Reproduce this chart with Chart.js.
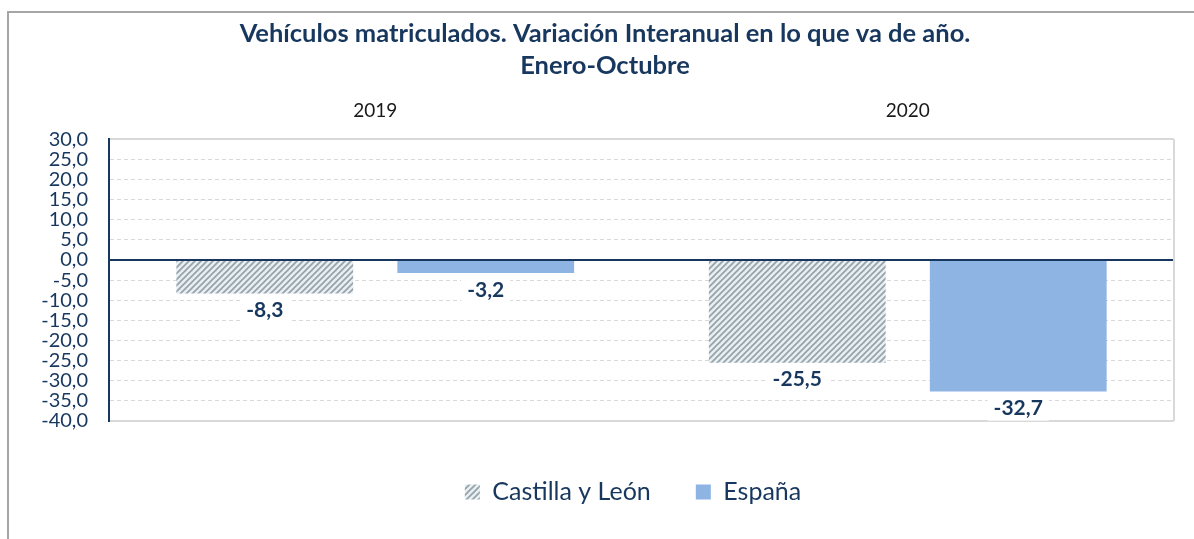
<!DOCTYPE html>
<html>
<head>
<meta charset="utf-8">
<script src="https://cdn.jsdelivr.net/npm/chart.js@4.4.1/dist/chart.umd.min.js"></script>
<style>
  html, body { margin: 0; padding: 0; background: #fff; overflow: hidden; }
  #frame { position: absolute; left: 7px; top: 11px; width: 1200px; height: 540px;
           border-left: 2px solid #a6a6a6; border-top: 2px solid #a6a6a6; }
  #wrap { position: absolute; left: 0; top: 0; width: 1194px; height: 539px; }
</style>
</head>
<body>
<div id="frame"></div>
<div id="wrap"><canvas id="chart" width="1194" height="539"></canvas></div>
<script>
// ===== DATA =====
const years      = ['2019', '2020'];
const castilla   = [-8.3, -25.5];
const espana     = [-3.2, -32.7];
const seriesNames = ['Castilla y León', 'España'];
const yTicks     = [30, 25, 20, 15, 10, 5, 0, -5, -10, -15, -20, -25, -30, -35, -40];

const NAVY = '#17375e';
const FONT = 'Lato, "Liberation Sans", sans-serif';

// hatch pattern (light diagonal stripes)
function makeHatch() {
  const s = 6;
  const c = document.createElement('canvas');
  c.width = s; c.height = s;
  const g = c.getContext('2d');
  g.fillStyle = '#e8eff3';
  g.fillRect(0, 0, s, s);
  g.strokeStyle = '#96a1a9';
  g.lineWidth = 1.7;
  for (let k = -1; k <= 1; k++) {
    g.beginPath();
    g.moveTo(k * s - 1, s + 1);
    g.lineTo(k * s + s + 1, -1);
    g.stroke();
  }
  return g.createPattern(c, 'repeat');
}
const hatch = makeHatch();

const fmt = v => v.toFixed(1).replace('.', ',');

// value labels below each bar, with white box
const valueLabels = {
  id: 'valueLabels',
  afterDatasetsDraw(chart) {
    const ctx = chart.ctx;
    ctx.save();
    ctx.font = 'bold 21px ' + FONT;
    ctx.textAlign = 'center';
    ctx.textBaseline = 'middle';
    chart.data.datasets.forEach((ds, di) => {
      chart.getDatasetMeta(di).data.forEach((el, i) => {
        const txt = fmt(ds.data[i]);
        const y = el.y + 17;
        const w = ctx.measureText(txt).width + 12;
        ctx.fillStyle = '#fff';
        ctx.fillRect(el.x - w / 2, y - 12, w, 24);
        ctx.fillStyle = NAVY;
        ctx.fillText(txt, el.x, y);
      });
    });
    ctx.restore();
  }
};

// right border of plot area + shift title/legend like the original
const plotFrame = {
  id: 'plotFrame',
  afterLayout(chart) {
    if (chart.legend) { chart.legend.left += 46; chart.legend.right += 46; }
    if (chart.titleBlock) { chart.titleBlock.left += 18; chart.titleBlock.right += 18; }
  },
  beforeDatasetsDraw(chart) {
    const { ctx, chartArea: a } = chart;
    ctx.save();
    ctx.strokeStyle = '#d9d9d9';
    ctx.lineWidth = 2;
    ctx.beginPath();
    ctx.moveTo(a.right, a.top);
    ctx.lineTo(a.right, a.bottom);
    ctx.stroke();
    ctx.restore();
  }
};

new Chart(document.getElementById('chart'), {
  type: 'bar',
  data: {
    labels: years,
    datasets: [
      { label: seriesNames[0], data: castilla, backgroundColor: hatch,
        categoryPercentage: 0.83, barPercentage: 0.8 },
      { label: seriesNames[1], data: espana, backgroundColor: '#8eb4e3',
        categoryPercentage: 0.83, barPercentage: 0.8 }
    ]
  },
  options: {
    responsive: false,
    animation: false,
    layout: { padding: { left: 0, right: 20, top: 0, bottom: 24.5 } },
    plugins: {
      title: {
        display: true,
        text: ['Vehículos matriculados. Variación Interanual en lo que va de año.', 'Enero-Octubre'],
        color: NAVY,
        font: { family: FONT, size: 25.5, weight: 'bold', lineHeight: 1.26 },
        padding: { top: 18, bottom: 0 }
      },
      legend: {
        position: 'bottom',
        title: { display: true, text: ' ', font: { size: 1 }, padding: { top: 12.3, bottom: 0 } },
        labels: {
          color: NAVY,
          font: { family: FONT, size: 25 },
          boxWidth: 15, boxHeight: 15,
          padding: 45
        }
      },
      tooltip: { enabled: false }
    },
    scales: {
      x: {
        position: 'top',
        grid: { display: false },
        border: { display: false },
        ticks: { color: '#1a1a1a', font: { family: FONT, size: 19 }, padding: 9 },
        afterFit(scale) { scale.height = 57; }
      },
      y: {
        min: -40, max: 30,
        afterBuildTicks(scale) { scale.ticks = yTicks.map(v => ({ value: v })); },
        afterFit(scale) { scale.width = 109; },
        ticks: {
          color: NAVY,
          font: { family: FONT, size: 20 },
          padding: 21,
          autoSkip: false,
          callback: v => fmt(v)
        },
        grid: {
          drawTicks: false,
          color: ctx => ctx.tick && ctx.tick.value === 0 ? NAVY : '#d9d9d9',
          lineWidth: ctx => ctx.tick && (ctx.tick.value === 0 || ctx.tick.value === 30 || ctx.tick.value === -40) ? 2 : 1
        },
        border: {
          color: NAVY, width: 2,
          dash: ctx => ctx.tick && (ctx.tick.value === 0 || ctx.tick.value === 30 || ctx.tick.value === -40) ? [] : [4, 3]
        }
      }
    }
  },
  plugins: [valueLabels, plotFrame]
});
</script>
</body>
</html>
